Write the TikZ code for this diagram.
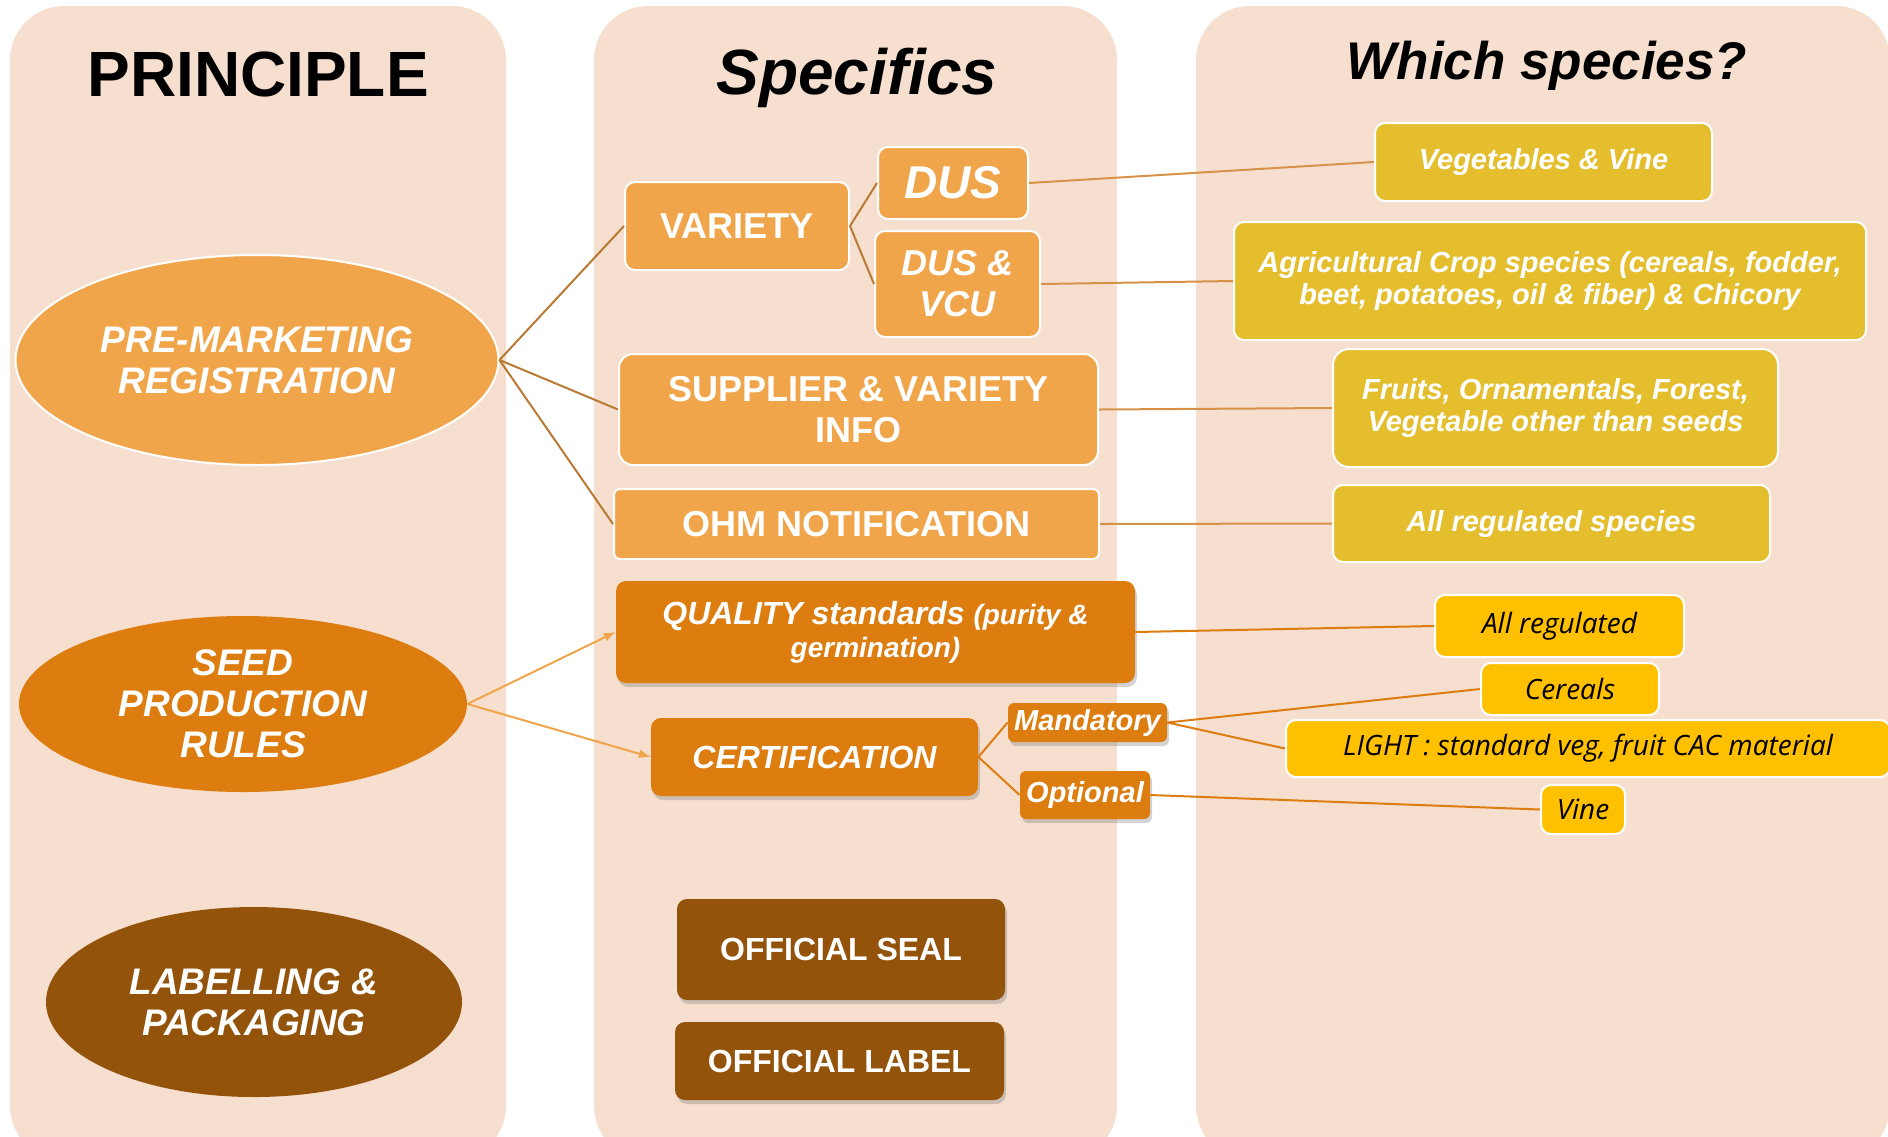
\documentclass[tikz,border=0pt]{standalone}
\usepackage{fontspec}
\setmainfont{Liberation Sans}
\newfontfamily\opensans{Open Sans}
\usetikzlibrary{shapes,arrows,shadows}
\definecolor{panel}{RGB}{246,223,206}
\definecolor{regor}{RGB}{241,165,74}
\definecolor{prodor}{RGB}{221,125,16}
\definecolor{labbr}{RGB}{148,83,10}
\definecolor{mustard}{RGB}{228,190,44}
\definecolor{gold}{RGB}{255,192,0}
\definecolor{linebr}{RGB}{185,122,52}
\definecolor{linelt}{RGB}{214,146,72}
\tikzstyle{title}=[anchor=base,font=\bfseries\fontsize{32}{36}\selectfont]
\tikzstyle{box}=[rectangle,rounded corners=5pt,inner sep=0pt,align=center,text=white]
\tikzstyle{shade}=[drop shadow={opacity=0.35,shadow xshift=1pt,shadow yshift=-2pt}]
\tikzstyle{reg}=[box,fill=regor,draw=white,line width=1pt,font=\bfseries\fontsize{18}{20.5}\selectfont]
\tikzstyle{prod}=[box,shade,fill=prodor,font=\bfseries\itshape\fontsize{16}{16.3}\selectfont]
\tikzstyle{lab}=[box,shade,fill=labbr,font=\bfseries\fontsize{16}{18}\selectfont]
\tikzstyle{species}=[box,fill=mustard,draw=white,line width=1pt,font=\bfseries\itshape\fontsize{14.5}{16.3}\selectfont]
\tikzstyle{cat}=[box,fill=gold,draw=white,line width=1pt,text=black,font=\opensans\itshape\fontsize{14}{16}\selectfont]
\tikzstyle{principle}=[ellipse,inner sep=0pt,align=center,text=white,font=\bfseries\itshape\fontsize{18.5}{20.5}\selectfont]
\tikzstyle{link}=[draw,line width=1pt]
\tikzstyle{arrow}=[draw,-latex,line width=1pt,regor]

\begin{document}
\begin{tikzpicture}[x=0.5pt,y=-0.5pt]
  \clip (0,0) rectangle (1888,1136);

  % Columns
  \fill[panel,rounded corners=27pt] (10,6) rectangle (506,1160);
  \fill[panel,rounded corners=27pt] (594,6) rectangle (1117,1160);
  \fill[panel,rounded corners=27pt] (1196,6) rectangle (1890,1160);

  \node[title] (principle) at (258,96) {PRINCIPLE};
  \node[title,font=\bfseries\itshape\fontsize{32}{36}\selectfont] (specifics) at (857,94) {Specifics};
  \node[title,font=\bfseries\itshape\fontsize{26.5}{30}\selectfont] (which) at (1547,79) {Which species?};

  % Principles
  \node[principle,fill=regor,draw=white,line width=1pt,minimum width=241.5pt,minimum height=105pt] (pmr) at (257,360) {PRE-MARKETING\\REGISTRATION};
  \node[principle,fill=prodor,minimum width=224pt,minimum height=88pt] (spr) at (243,704) {SEED\\PRODUCTION\\RULES};
  \node[principle,fill=labbr,minimum width=208pt,minimum height=95pt] (lp) at (254,1002) {LABELLING \&\\PACKAGING};

  % Registration
  \node[reg,minimum width=112pt,minimum height=44pt] (variety) at (737,226) {VARIETY};
  \node[reg,minimum width=75pt,minimum height=36pt,font=\bfseries\itshape\fontsize{23}{26}\selectfont] (dus) at (953,183) {DUS};
  \node[reg,minimum width=82.5pt,minimum height=53pt,font=\bfseries\itshape\fontsize{18}{20.5}\selectfont] (dusvcu) at (957.5,284) {DUS \&\\VCU};
  \node[reg,rounded corners=7pt,minimum width=239.5pt,minimum height=55.5pt] (supplier) at (858.5,409.5) {SUPPLIER \& VARIETY\\INFO};
  \node[reg,rounded corners=3pt,minimum width=242.5pt,minimum height=35pt] (ohm) at (856.5,524) {OHM NOTIFICATION};

  % Production
  \node[prod,minimum width=259.5pt,minimum height=51pt] (quality) at (875.5,632) {QUALITY standards \fontsize{14}{16.3}\selectfont(purity \&\\\fontsize{14}{16.3}\selectfont germination)};
  \node[prod,minimum width=163.5pt,minimum height=39pt] (cert) at (814.5,757) {CERTIFICATION};
  \node[prod,rounded corners=3pt,minimum width=79.5pt,minimum height=19.5pt,font=\bfseries\itshape\fontsize{14.5}{16}\selectfont] (mand) at (1087.5,722.5) {Mandatory};
  \node[prod,rounded corners=3pt,minimum width=65pt,minimum height=24pt,font=\bfseries\itshape\fontsize{14.5}{16}\selectfont] (opt) at (1085,795) {Optional};

  % Labelling
  \node[lab,minimum width=164pt,minimum height=50.5pt] (seal) at (841,949.5) {OFFICIAL SEAL};
  \node[lab,minimum width=164.5pt,minimum height=39pt] (label) at (839.5,1061) {OFFICIAL LABEL};

  % Species
  \node[species,minimum width=168.5pt,minimum height=39pt] (veg) at (1543.5,162) {Vegetables \& Vine};
  \node[species,minimum width=316pt,minimum height=59pt] (agri) at (1550,281) {Agricultural Crop species (cereals, fodder,\\beet, potatoes, oil \& fiber) \& Chicory};
  \node[species,rounded corners=8pt,minimum width=222.5pt,minimum height=59pt] (fruits) at (1555.5,408) {Fruits, Ornamentals, Forest,\\Vegetable other than seeds};
  \node[species,minimum width=218.5pt,minimum height=38.5pt] (allspec) at (1551.5,523.5) {All regulated species};

  \node[cat,minimum width=124.5pt,minimum height=31pt] (allreg) at (1559.5,626) {All regulated};
  \node[cat,minimum width=89pt,minimum height=26pt] (cereals) at (1570,689) {Cereals};
  \node[cat,minimum width=302pt,minimum height=28.5pt] (light) at (1588,748.5) {LIGHT : standard veg, fruit CAC material};
  \node[cat,minimum width=42pt,minimum height=24.5pt] (vine) at (1583,809.5) {Vine};

  % Links
  \draw[link,linebr] (pmr.east) -- (variety.west);
  \draw[link,linebr] (pmr.east) -- (supplier.west);
  \draw[link,linebr] (pmr.east) -- (ohm.west);
  \draw[link,linebr] (variety.east) -- (dus.west);
  \draw[link,linebr] (variety.east) -- (dusvcu.west);

  \draw[link,linelt] (dus.east) -- (veg.west);
  \draw[link,linelt] (dusvcu.east) -- (agri.west);
  \draw[link,linelt] (supplier.east) -- (fruits.west);
  \draw[link,linelt] (ohm.east) -- (allspec.west);

  \draw[arrow] (spr.east) -- (quality.west);
  \draw[arrow] (spr.east) -- (cert.west);

  \draw[link,prodor] (quality.east) -- (allreg.west);
  \draw[link,prodor] (cert.east) -- (mand.west);
  \draw[link,prodor] (cert.east) -- (opt.west);
  \draw[link,prodor] (mand.east) -- (cereals.west);
  \draw[link,prodor] (mand.east) -- (light.west);
  \draw[link,prodor] (opt.east) -- (vine.west);
\end{tikzpicture}
\end{document}
